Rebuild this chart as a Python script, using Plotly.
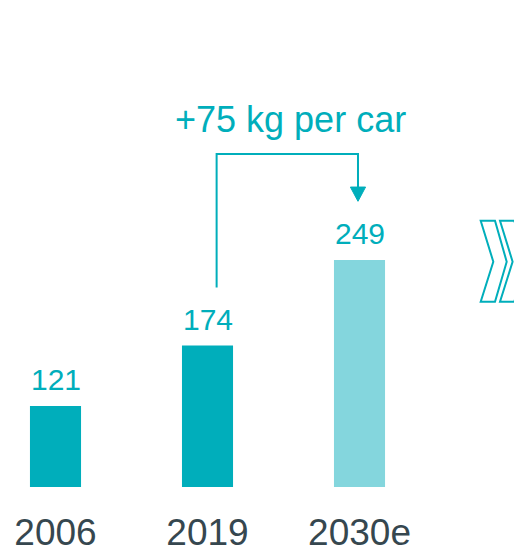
import plotly.graph_objects as go

# data
years = ["2006", "2019", "2030e"]
weights = [121, 174, 249]
bar_colors = ["#00AEBB", "#00AEBB", "#84D6DD"]
note = "+75 kg per car"

teal = "#00AEBB"
dark = "#36474F"
font = "Liberation Sans, Arial, sans-serif"

# page has an 8px body margin, so the figure is drawn 8px smaller
W, H = 514, 540
plot_h = 479  # plot area height in px (bottom margin = 61)
OFF = 8

fig = go.Figure(go.Bar(
    x=years, y=weights,
    marker_color=bar_colors, marker_line_width=0,
    width=0.336,
))

# value labels above the bars
for i, w in enumerate(weights):
    fig.add_annotation(x=i, y=w, text=str(w), showarrow=False, yanchor="bottom",
                       yshift=8, font=dict(size=30, color=teal, family=font))

# bracket from 2019 to 2030e
bx0, bx1 = 1.06, 1.99
by0, by1 = 225, 342
head_top, head_tip = 313, 300.5
hw = 0.05
line = dict(color=teal, width=2)
fig.add_shape(type="path", xref="x", yref="y",
              path=f"M {bx0},{by0} L {bx0},{by1} L {bx1},{by1} L {bx1},{head_top}",
              line=line)
fig.add_shape(type="path", xref="x", yref="y",
              path=f"M {bx1-hw},{head_top} L {bx1+hw},{head_top} L {bx1},{head_tip} Z",
              line=dict(color=teal, width=1), fillcolor=teal)
fig.add_annotation(x=1.543, y=372, xref="x", yref="y", text=note, showarrow=False,
                   font=dict(size=36, color=teal, family=font), yanchor="middle")


# chevrons at the right (pixel coords -> paper)
def px(x, y):
    return f"{(x - OFF) / W},{1 - (y - OFF) / plot_h}"


for dx in (0, 19.3):
    pts = [(480.7, 220.7), (495, 220.7), (506.7, 261.7), (495, 301.7), (480.7, 301.7), (493.3, 261.7)]
    path = "M " + " L ".join(px(x + dx, y) for x, y in pts) + " Z"
    fig.add_shape(type="path", xref="paper", yref="paper", path=path,
                  line=dict(color=teal, width=2), fillcolor="rgba(0,0,0,0)")

fig.update_layout(
    width=W, height=H,
    margin=dict(l=0, r=0, t=0, b=61, autoexpand=False),
    plot_bgcolor="white", paper_bgcolor="white",
    showlegend=False,
    xaxis=dict(type="category", range=[-0.3125, 3.069], showgrid=False, zeroline=False,
               showline=False, ticks="", tickfont=dict(size=37, color=dark, family=font),
               ticklabelstandoff=20, automargin=False),
    yaxis=dict(range=[50, 470], visible=False),
)

fig.write_html("out.html")
